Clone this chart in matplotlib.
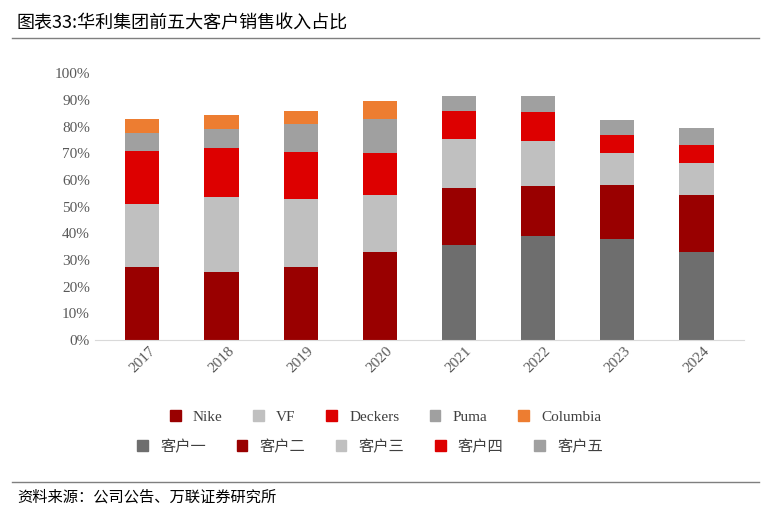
import numpy as np
import matplotlib.pyplot as plt
from matplotlib.patches import Patch
from matplotlib.lines import Line2D

plt.rcParams['font.family'] = ['Liberation Serif', 'Noto Sans CJK SC', 'DejaVu Sans']

years = ['2017', '2018', '2019', '2020', '2021', '2022', '2023', '2024']
# share of revenue per customer rank (%), 2017-2020 named brands, 2021+ anonymised
seg1 = [27.5, 25.5, 27.3, 33.0, 35.5, 38.8, 38.0, 33.0]
seg2 = [23.5, 28.0, 25.7, 21.5, 21.5, 19.0, 20.0, 21.5]
seg3 = [20.0, 18.5, 17.5, 15.5, 18.5, 16.7, 12.0, 12.0]
seg4 = [6.5, 7.0, 10.5, 13.0, 10.5, 11.0, 6.8, 6.5]
seg5 = [5.5, 5.5, 5.0, 6.5, 5.5, 5.8, 5.5, 6.5]
brand_names = ['Nike', 'VF', 'Deckers', 'Puma', 'Columbia']
cust_names = ['客户一', '客户二', '客户三', '客户四', '客户五']

brand_cols = ['#990000', '#c0c0c0', '#dd0000', '#a0a0a0', '#ed7d31']
cust_cols = ['#6e6e6e', '#990000', '#c0c0c0', '#dd0000', '#a0a0a0']
n_brand = 4

fig = plt.figure(figsize=(7.71, 5.12), dpi=100)
ax = fig.add_axes([0.123, 0.336, 0.842, 0.521])

segs = [seg1, seg2, seg3, seg4, seg5]
x = np.arange(len(years))
bottom = np.zeros(len(years))
for k, s in enumerate(segs):
    s = np.array(s)
    cols = [brand_cols[k] if i < n_brand else cust_cols[k] for i in range(len(years))]
    ax.bar(x, s, 0.43, bottom=bottom, color=cols)
    bottom += s

ax.set_ylim(0, 100)
ax.set_xlim(-0.6, len(years) - 0.4)
ax.set_yticks(range(0, 101, 10))
ax.set_yticklabels([f'{v}%' for v in range(0, 101, 10)], color='#595959', fontsize=11)
ax.set_xticks(x)
ax.set_xticklabels(years, rotation=45, color='#595959', fontsize=11)
for sp in ['top', 'right', 'left']:
    ax.spines[sp].set_visible(False)
ax.spines['bottom'].set_color('#d9d9d9')
ax.tick_params(length=0)

h1 = [Patch(color=c) for c in brand_cols]
h2 = [Patch(color=c) for c in cust_cols]
fig.legend(h1, brand_names, loc='center', bbox_to_anchor=(0.5, 0.185), ncol=5, frameon=False,
           handlelength=0.7, handleheight=0.7, columnspacing=2.0, prop={'size': 11},
           labelcolor='#404040')
fig.legend(h2, cust_names, loc='center', bbox_to_anchor=(0.48, 0.128), ncol=5, frameon=False,
           handlelength=0.7, handleheight=0.7, columnspacing=2.0,
           prop={'size': 11, 'family': ['Noto Sans CJK SC']}, labelcolor='#404040')

fig.text(0.022, 0.955, '图表33:华利集团前五大客户销售收入占比', fontsize=13,
         family=['Noto Sans CJK SC'], va='center')
fig.add_artist(Line2D([0.015, 0.985], [0.925, 0.925], color='#7f7f7f', lw=1))
fig.add_artist(Line2D([0.015, 0.985], [0.058, 0.058], color='#7f7f7f', lw=1))
fig.text(0.022, 0.03, '资料来源：公司公告、万联证券研究所', fontsize=11, style='italic',
         family=['Noto Sans CJK SC'], va='center')

fig.savefig('out.png', dpi=100)
